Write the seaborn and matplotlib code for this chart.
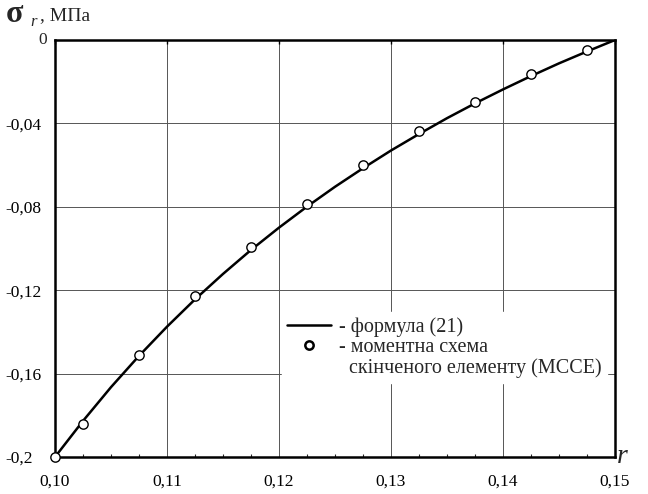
import numpy as np
import pandas as pd
import matplotlib
matplotlib.use("Agg")
import matplotlib.pyplot as plt
import seaborn as sns
from matplotlib.ticker import MultipleLocator, FixedLocator
from matplotlib.lines import Line2D

# Data
r_line = [0.100, 0.1025, 0.105, 0.1075, 0.110, 0.1125, 0.115, 0.1175, 0.120, 0.1225,
          0.125, 0.1275, 0.130, 0.1325, 0.135, 0.1375, 0.140, 0.1425, 0.145, 0.1475, 0.150]
sigma_line = [-0.200, -0.1827, -0.1665, -0.1515, -0.1375, -0.1244, -0.1122, -0.1007, -0.0900,
              -0.0799, -0.0704, -0.0615, -0.0530, -0.0451, -0.0375, -0.0304, -0.0237,
              -0.0173, -0.0112, -0.0055, 0.000]
r_mcce = [0.100, 0.1025, 0.1075, 0.1125, 0.1175, 0.1225, 0.1275, 0.1325, 0.1375, 0.1425, 0.1475]
sigma_mcce = [-0.200, -0.184, -0.151, -0.123, -0.0995, -0.0785, -0.060, -0.0437, -0.0295,
              -0.0165, -0.0048]

x_ticks = [0.10, 0.11, 0.12, 0.13, 0.14, 0.15]
x_tick_labels = ["0,10", "0,11", "0,12", "0,13", "0,14", "0,15"]
y_ticks = [-0.2, -0.16, -0.12, -0.08, -0.04, 0.0]
y_tick_labels = ["-0,2", "-0,16", "-0,12", "-0,08", "-0,04", ""]
y_zero_label = "0"

line_label = "- формула (21)"
mcce_label = "- моментна схема"
mcce_label2 = "  скінченого елементу (МССЕ)"

sns.set_style("white")
plt.rcParams['font.family'] = ['Liberation Serif', 'DejaVu Serif']
plt.rcParams['mathtext.fontset'] = 'custom'
plt.rcParams['mathtext.it'] = 'Liberation Serif:italic'
plt.rcParams['mathtext.rm'] = 'Liberation Serif'

fig = plt.figure(figsize=(6.48, 4.94), dpi=100)
ax = fig.add_axes([55/648, 1 - 457/494, 560/648, 417/494])

df_line = pd.DataFrame({"r": r_line, "s": sigma_line})
df_pts = pd.DataFrame({"r": r_mcce, "s": sigma_mcce})

sns.lineplot(data=df_line, x="r", y="s", ax=ax, color="black", linewidth=1.8,
             legend=False, zorder=3)
sns.scatterplot(data=df_pts, x="r", y="s", ax=ax, s=45, facecolor="white",
                edgecolor="black", linewidth=1.0, legend=False, zorder=4,
                clip_on=False)

ax.set_xlim(0.10, 0.15)
ax.set_ylim(-0.2, 0.0)
ax.xaxis.set_major_locator(FixedLocator(x_ticks))
ax.set_xticklabels(x_tick_labels)
ax.yaxis.set_major_locator(FixedLocator(y_ticks))
ax.set_yticklabels(y_tick_labels)
ax.xaxis.set_minor_locator(MultipleLocator(0.0025))

ax.grid(True, which="major", color="#555555", linewidth=0.7)
ax.set_axisbelow(True)
for s in ax.spines.values():
    s.set_visible(True)
    s.set_color("black")
    s.set_linewidth(1.8)

ax.tick_params(axis="both", which="major", direction="in", length=3, width=1,
               labelsize=12.5, colors="black", top=True)
ax.tick_params(axis="x", which="major", pad=12)
ax.tick_params(axis="y", which="major", pad=36)
plt.setp(ax.get_yticklabels(), ha="left")
ax.tick_params(axis="x", which="minor", direction="in", length=2, width=0.8, bottom=True)

ax.set_xlabel("")
ax.set_ylabel("")

fig.text(43/648, 1 - 40/494, y_zero_label, fontsize=12.5, ha="center", va="center")
fig.text(6/648, 1 - 15/494, "σ", fontsize=23, ha="left", va="center", weight="bold")
fig.text(30/648, 1 - 22/494, r"$\mathit{r}$", fontsize=12, ha="left", va="center")
fig.text(40/648, 1 - 16/494, ", МПа", fontsize=14, ha="left", va="center")
fig.text(616/648, 1 - 456/494, r"$\mathit{r}$", fontsize=20, ha="left", va="center")

handles = [
    Line2D([], [], color="black", linewidth=1.8),
    Line2D([], [], linestyle="none", marker="o", markersize=6, markerfacecolor="white",
           markeredgecolor="black", markeredgewidth=1.8),
    Line2D([], [], linestyle="none"),
]
leg = ax.legend(handles, [line_label, mcce_label, mcce_label2], loc="upper left",
                bbox_to_anchor=((282 - 55)/560, (457 - 312)/417),
                frameon=True, fontsize=14.5, handlelength=2.2, handletextpad=0.4,
                labelspacing=0.05, borderpad=0.25, borderaxespad=0)
leg.get_frame().set_edgecolor("white")
leg.get_frame().set_facecolor("white")
leg.get_frame().set_alpha(1.0)
leg.get_frame().set_boxstyle("square", pad=0.0)

fig.savefig("out.png", dpi=100)
